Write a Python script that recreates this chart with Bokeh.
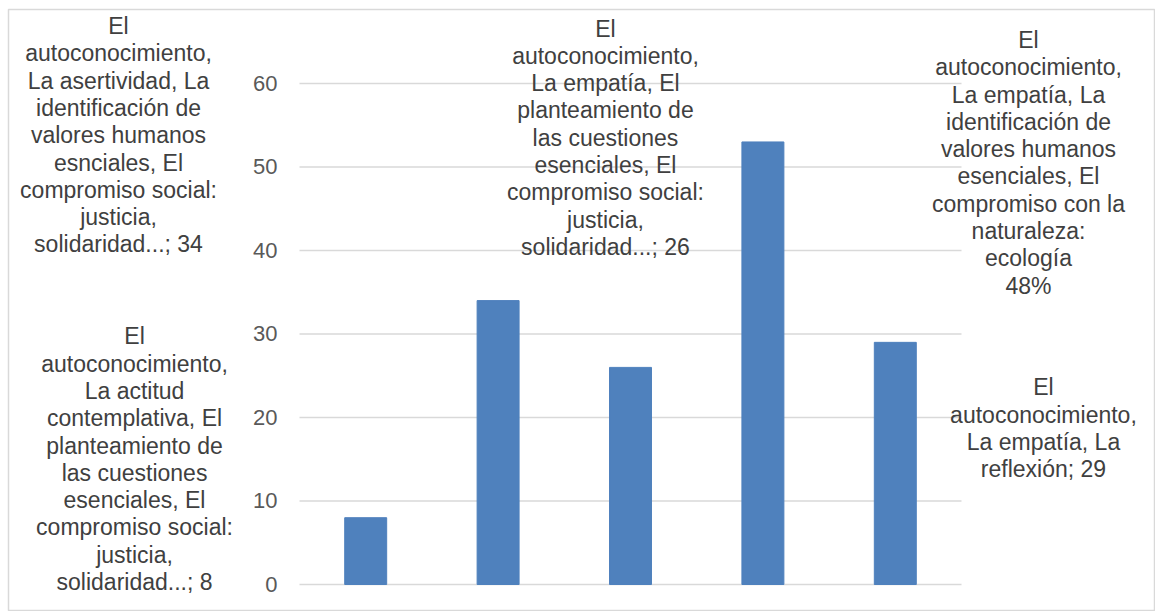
from bokeh.plotting import figure
from bokeh.models import Range1d, Label
from bokeh.core.properties import value
from bokeh.embed import file_html
from bokeh.resources import INLINE

# ---- data ----
positions = [1, 2, 3, 4, 5]
values = [8, 34, 26, 53, 29]
label_texts = [
    "El\nautoconocimiento,\nLa actitud\ncontemplativa, El\nplanteamiento de\nlas cuestiones\nesenciales, El\ncompromiso social:\njusticia,\nsolidaridad...; 8",
    "El\nautoconocimiento,\nLa asertividad, La\nidentificación de\nvalores humanos\nesnciales, El\ncompromiso social:\njusticia,\nsolidaridad...; 34",
    "El\nautoconocimiento,\nLa empatía, El\nplanteamiento de\nlas cuestiones\nesenciales, El\ncompromiso social:\njusticia,\nsolidaridad...; 26",
    "El\nautoconocimiento,\nLa empatía, La\nidentificación de\nvalores humanos\nesenciales, El\ncompromiso con la\nnaturaleza:\necología\n48%",
    "El\nautoconocimiento,\nLa empatía, La\nreflexión; 29",
]
y_ticks = [0, 10, 20, 30, 40, 50, 60]
tick_labels = [str(t) for t in y_ticks]

# ---- layout only ----
label_x = [-0.746, -0.867, 2.811, 6.006, 6.119]
label_y = [15.0, 53.8, 53.5, 50.5, 18.7]
cat_lo, cat_hi = 0.5, 5.5
tick_label_x = 0.334

FONT = "Liberation Sans"

p = figure(width=1155, height=611, output_backend="svg", toolbar_location=None,
           x_range=Range1d(-1.6979, 6.9577), y_range=Range1d(-3.2335, 68.862),
           x_axis_location=None, y_axis_location=None,
           min_border_left=8, min_border_right=1,
           min_border_top=9, min_border_bottom=0)
p.outline_line_color = "#d9d9d9"
p.outline_line_width = 1.5
p.background_fill_color = "white"
p.border_fill_color = "white"
p.grid.visible = False

# gridlines limited to the plot area
p.segment(x0=[cat_lo] * len(y_ticks), x1=[cat_hi] * len(y_ticks),
          y0=y_ticks, y1=y_ticks, line_color="#d9d9d9", line_width=1.5)

# tick labels
p.text(x=[tick_label_x] * len(y_ticks), y=y_ticks, text=tick_labels,
       text_font=value(FONT), text_font_size="22px", text_color="#595959",
       text_align="right", text_baseline="middle")

p.vbar(x=positions, top=values, width=0.317, bottom=0,
       fill_color="#4f81bd", line_color="#4f81bd", line_width=1)

for txt, lx, ly in zip(label_texts, label_x, label_y):
    p.add_layout(Label(x=lx, y=ly, text=txt, text_font=FONT,
                       text_font_size="23px", text_color="#404040",
                       text_align="center", text_baseline="middle",
                       text_line_height=1.05))

open("out.html", "w").write(file_html(p, INLINE))
